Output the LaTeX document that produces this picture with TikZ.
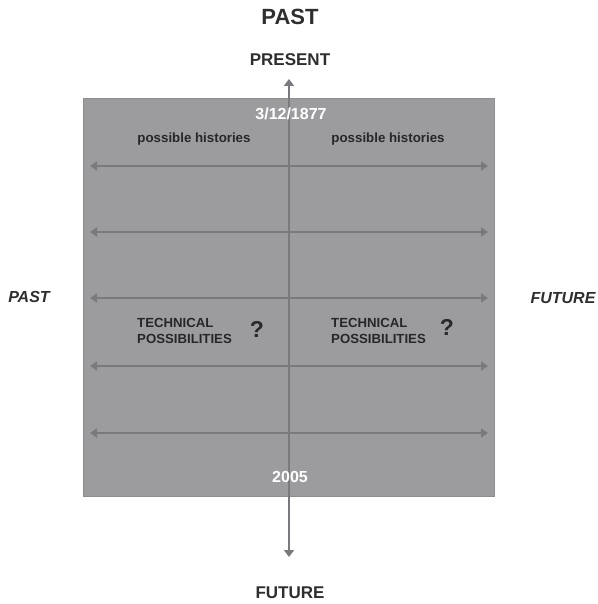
\documentclass[tikz,border=0pt]{standalone}
\usepackage{fontspec}
\setmainfont{Liberation Sans}
\usetikzlibrary{arrows.meta}
\definecolor{boxgray}{HTML}{9C9C9F}
\definecolor{boxedge}{HTML}{8E8E91}
\definecolor{arrgray}{HTML}{7A7A7E}
\definecolor{txtdark}{HTML}{2E2E30}
\tikzset{
  axis/.style={draw=arrgray, line width=2pt, {Triangle[width=9pt,length=7pt]}-{Triangle[width=9pt,length=7pt]}},
  vaxis/.style={draw=arrgray, line width=2pt, {Triangle[width=10pt,length=7pt]}-{Triangle[width=10pt,length=7pt]}},
  lbl/.style={font=\bfseries, text=txtdark, inner sep=0pt},
  wlbl/.style={font=\bfseries\fontsize{16}{18}\selectfont, text=white, inner sep=0pt},
  small/.style={lbl, font=\bfseries\fontsize{13.3}{15}\selectfont, text=txtdark!85!black},
  tech/.style={lbl, font=\bfseries\fontsize{13.2}{16}\selectfont, align=left, anchor=west, text=txtdark!85!black},
  qm/.style={lbl, font=\bfseries\fontsize{23}{24}\selectfont, text=txtdark!90!black}
}
\begin{document}
\begin{tikzpicture}[x=1pt,y=-1pt]
\useasboundingbox (0,0) rectangle (597,604);
\fill[white] (0,0) rectangle (597,604);
\filldraw[fill=boxgray, draw=boxedge, line width=1pt] (83,99) rectangle (494,496);
% horizontal arrows
\foreach \i/\yy in {1/166,2/232,3/298,4/366,5/433}{
  \coordinate (l\i) at (90,\yy);
  \coordinate (r\i) at (488,\yy);
  \draw[axis] (l\i) -- (r\i);
}
% vertical axis
\coordinate (vt) at (289,79);
\coordinate (vb) at (289,557);
\draw[vaxis] (vt) -- (vb);
% labels
\node[lbl, font=\bfseries\fontsize{22}{24}\selectfont] (past1) at (290,17) {PAST};
\node[lbl, font=\bfseries\fontsize{17}{19}\selectfont] (present) at (290,60) {PRESENT};
\node[lbl, font=\bfseries\fontsize{17}{19}\selectfont] (future1) at (290,593) {FUTURE};
\node[lbl, font=\bfseries\itshape\fontsize{16}{18}\selectfont] (past2) at (29,297) {PAST};
\node[lbl, font=\bfseries\itshape\fontsize{16}{18}\selectfont] (future2) at (563,298) {FUTURE};
\node[wlbl] (d1) at (291,114) {3/12/1877};
\node[wlbl] (d2) at (290,477) {2005};
\node[small] (ph1) at (194,139) {possible histories};
\node[small] (ph2) at (388,139) {possible histories};
\node[tech] (t1) at (137,331) {TECHNICAL\\POSSIBILITIES};
\node[tech] (t2) at (331,331) {TECHNICAL\\POSSIBILITIES};
\node[qm] (q1) at (257,329) {?};
\node[qm] (q2) at (447,327) {?};
\end{tikzpicture}
\end{document}
